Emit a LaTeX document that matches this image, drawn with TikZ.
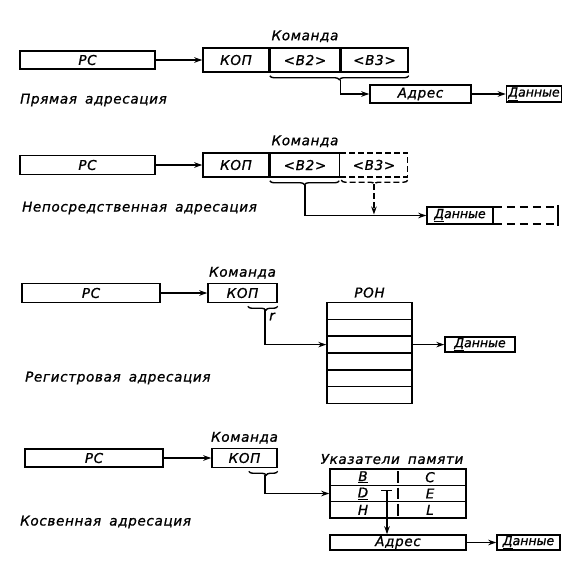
\documentclass[tikz,border=0pt]{standalone}
\usepackage{fontspec}
\newfontfamily\gost{DejaVu Sans}[LetterSpace=5,FakeBold=1]
\newfontfamily\gostn{DejaVu Sans}[FakeBold=1]
\usetikzlibrary{arrows.meta,decorations.pathreplacing,calc}
\newcommand{\gf}{\gost\itshape\fontsize{13.5}{15}\selectfont}
\newcommand{\dn}{{\gostn\itshape\fontsize{12.5}{14}\selectfont\underline{Д}анные}}
\begin{document}
\begin{tikzpicture}[x=1pt,y=-1pt,
  lw/.style={line width=1.5pt},
  box/.style={draw,line width=1.5pt,inner sep=0pt,font=\gf},
  cell/.style={inner sep=0pt,font=\gf},
  arr/.style={line width=1.5pt,-{Stealth[length=8pt,width=5.5pt]}},
  brc/.style={decorate,decoration={brace,mirror,amplitude=4pt},line width=1.4pt},
  lbl/.style={inner sep=0pt,font=\gf}]
\useasboundingbox (0,0) rectangle (588,570);

% ---------- Section 1: direct ----------
\node[box,minimum width=135pt,minimum height=18pt] (pc1) at (87.5,60) {РС};
\node[box,minimum width=66pt,minimum height=24pt] (kop1) at (236,60) {КОП};
\node[box,minimum width=69pt,minimum height=24pt,anchor=west] (b21) at (kop1.east) {<B2>};
\node[box,minimum width=67pt,minimum height=24pt,anchor=west] (b31) at (b21.east) {<B3>};
\node[lbl,above=5pt] (cmd1) at (b21.north) {Команда};
\draw[arr] (pc1) -- (kop1);
\draw[brc] ([yshift=-3pt]b21.south west) -- ([yshift=-3pt]b31.south east);
\coordinate (t1) at ($(b21.south east)+(0,7)$);
\node[box,minimum width=101pt,minimum height=18pt] (adr1) at (420.5,94) {Адрес};
\node[box,minimum width=55pt,minimum height=16pt] (dat1) at (534,94) {\dn};
\draw[arr] (t1) |- (adr1.west);
\draw[arr] (adr1) -- (dat1);
\node[lbl,anchor=west] (l1) at (20,100) {Прямая\hspace{0.6em}адресация};

% ---------- Section 2: immediate ----------
\node[box,minimum width=135pt,minimum height=19pt] (pc2) at (87.5,165) {РС};
\node[box,minimum width=66pt,minimum height=24pt] (kop2) at (236,165) {КОП};
\node[box,minimum width=69pt,minimum height=24pt,anchor=west] (b22) at (kop2.east) {<B2>};
\node[cell,minimum width=67pt,minimum height=24pt,anchor=west] (b32) at (b22.east) {<B3>};
\draw[lw,dash pattern=on 6pt off 3pt] (b32.north west) -- (b32.north east) -- (b32.south east) -- (b32.south west);
\node[lbl,above=5pt] (cmd2) at (b21.north |- b22.north) {Команда};
\draw[arr] (pc2) -- (kop2);
\draw[brc] ([yshift=-3pt]b22.south west) -- ([xshift=-1pt,yshift=-3pt]b22.south east);
\draw[brc,dash pattern=on 6pt off 3pt] ([xshift=1pt,yshift=-3pt]b32.south west) -- ([yshift=-3pt]b32.south east);
\coordinate (t2) at ($(b22.south)+(0,7)$);
\coordinate (t3) at ($(b32.south)+(0,7)$);
\node[box,minimum width=66pt,minimum height=17pt] (dat2) at (460,215.5) {\dn};
\node[cell,minimum width=64pt,minimum height=17pt,anchor=west] (ext2) at (dat2.east) {};
\draw[lw,dash pattern=on 8pt off 5pt] (ext2.north west) -- (ext2.north east);
\draw[lw,dash pattern=on 8pt off 5pt] (ext2.south west) -- (ext2.south east);
\draw[lw] ([yshift=2pt]ext2.north east) -- ([yshift=-2pt]ext2.south east);
\draw[arr] (t2) |- (dat2.west);
\draw[arr,dash pattern=on 6pt off 3pt,shorten >=1pt] (t3) -- (t3 |- dat2.west);
\node[lbl,anchor=west] (l2) at (22,208) {Непосредственная\hspace{0.6em}адресация};

% ---------- Section 3: register ----------
\node[box,minimum width=138pt,minimum height=19pt] (pc3) at (91,293) {РС};
\node[box,minimum width=69pt,minimum height=19pt] (kop3) at (242.5,293) {КОП};
\node[lbl,above=4pt] (cmd3) at (kop3.north) {Команда};
\draw[arr] (pc3) -- (kop3);
\draw[brc,decoration={aspect=0.6}] ([xshift=-30pt,yshift=-3pt]kop3.south east) -- ([yshift=-3pt]kop3.south east);
\coordinate (t5) at (265,309.5);
\node[lbl] (rl) at ($(t5)+(7,7)$) {r};
\foreach \i in {1,...,6}{
  \node[box,minimum width=85pt,minimum height=16.8pt] (r\i) at (369.5,{302.6+(\i-0.5)*16.8}) {};
}
\node[lbl,above=4pt] (ron) at (r1.north) {РОН};
\node[box,minimum width=70pt,minimum height=15pt] (dat3) at (480,344.6) {\dn};
\draw[arr] (t5) |- (r3.west);
\draw[arr] (r3.east) -- (dat3.west);
\node[lbl,anchor=west] (l3) at (25,378) {Регистровая\hspace{0.6em}адресация};

% ---------- Section 4: indirect ----------
\node[box,minimum width=138pt,minimum height=18pt] (pc4) at (94,458) {РС};
\node[box,minimum width=65pt,minimum height=19pt] (kop4) at (244.5,458) {КОП};
\node[lbl,above=4pt] (cmd4) at (kop4.north) {Команда};
\draw[arr] (pc4) -- (kop4);
\draw[brc,decoration={aspect=0.6}] ([xshift=-29pt,yshift=-3pt]kop4.south east) -- ([yshift=-3pt]kop4.south east);
\coordinate (t7) at (265,475);
\foreach \i in {1,2,3}{
  \node[box,minimum width=136pt,minimum height=16.33pt] (p\i) at (398,{469+(\i-0.5)*16.33}) {};
  \draw[lw] ([yshift=-3pt]p\i.north) -- ([yshift=3pt]p\i.south);
}
\node[cell] (cB) at ($(p1.center)+(-35,0)$) {\underline{B}};
\node[cell] (cC) at ($(p1.center)+(32,0)$) {C};
\node[cell] (cD) at ($(p2.center)+(-35,0)$) {\underline{D}};
\node[cell] (cE) at ($(p2.center)+(32,0)$) {E};
\node[cell] (cH) at ($(p3.center)+(-35,0)$) {H};
\node[cell] (cL) at ($(p3.center)+(32,0)$) {L};
\node[lbl,above=4pt,xshift=-6pt] (ptr) at (p1.north) {Указатели\hspace{0.6em}памяти};
\draw[arr] (t7) |- (p2.west);
\node[box,minimum width=136pt,minimum height=15pt] (adr4) at (398,542.5) {Адрес};
\node[box,minimum width=63pt,minimum height=15pt] (dat4) at (528.5,542.5) {\dn};
\coordinate (tt) at ($(p2.center)+(-11,-3)$);
\draw[lw] ([xshift=-6pt]tt) -- ([xshift=5pt]tt);
\draw[arr] (tt) -- (tt |- adr4.north);
\draw[arr] (adr4) -- (dat4);
\node[lbl,anchor=west] (l4) at (20,522) {Косвенная\hspace{0.6em}адресация};
\end{tikzpicture}
\end{document}
